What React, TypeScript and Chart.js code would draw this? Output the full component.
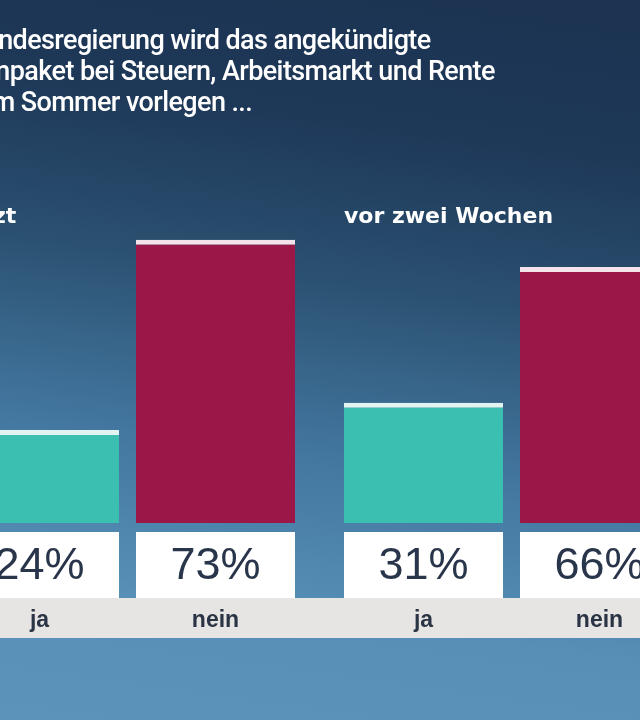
import { useEffect, useRef } from "react";
import { Chart, registerables } from "chart.js";

Chart.register(...registerables);

const titleLines = [
  "Die Bundesregierung wird das angekündigte",
  "Reformpaket bei Steuern, Arbeitsmarkt und Rente",
  "bis zum Sommer vorlegen ...",
];
const groups = ["jetzt", "vor zwei Wochen"];
const answers = ["ja", "nein"];
const jaValues = [24, 31];
const neinValues = [73, 66];
const barColors = ["#3bbfb0", "#9a1747"];
const capColors = ["#e2f4f1", "#f4e3ea"];

const OFFSET = 80; // canvas starts left of the visible page (cropped graphic)

export default function App() {
  const ref = useRef<HTMLCanvasElement>(null);

  useEffect(() => {
    const canvas = ref.current;
    if (!canvas) return;

    const overlay = {
      id: "overlay",
      afterDatasetsDraw(chart: any) {
        const ctx = chart.ctx as CanvasRenderingContext2D;
        const base = chart.scales.y.getPixelForValue(0);
        ctx.save();
        // grey answer band
        ctx.fillStyle = "#e6e5e4";
        ctx.fillRect(0, base + 75, chart.width, 40);
        chart.data.datasets.forEach((ds: any, di: number) => {
          const meta = chart.getDatasetMeta(di);
          meta.data.forEach((bar: any, i: number) => {
            const w = bar.width;
            const x0 = bar.x - w / 2;
            ctx.fillStyle = "#ffffff";
            ctx.fillRect(x0, base + 9, w, 66);
            ctx.fillStyle = "#28354a";
            ctx.font = "45px 'Liberation Sans', Arial, sans-serif";
            ctx.textAlign = "center";
            ctx.textBaseline = "alphabetic";
            ctx.fillText(ds.data[i] + "%", bar.x, base + 56);
            ctx.fillStyle = "#2b3444";
            ctx.font = "bold 23px 'Liberation Sans', Arial, sans-serif";
            ctx.fillText(ds.label, bar.x, base + 104);
          });
        });
        // group labels above each pair
        const first = chart.getDatasetMeta(0);
        ctx.fillStyle = "#ffffff";
        ctx.textAlign = "left";
        ctx.font = "bold 22px 'DejaVu Sans', sans-serif";
        first.data.forEach((bar: any, i: number) => {
          ctx.fillText(chart.data.labels[i], bar.x - bar.width / 2, 223);
        });
        // title
        ctx.font = "500 27px Roboto, sans-serif";
        (ctx as any).letterSpacing = "-0.6px";
        titleLines.forEach((line, i) => {
          ctx.fillText(line, OFFSET - 76, 49 + i * 31);
        });
        ctx.restore();
      },
    };

    const chart = new Chart(canvas, {
      type: "bar",
      data: {
        labels: groups,
        datasets: [
          {
            label: answers[0],
            data: jaValues,
            backgroundColor: barColors[0],
            borderColor: capColors[0],
            borderWidth: { top: 5, left: 0, right: 0, bottom: 0 },
            borderSkipped: false,
          },
          {
            label: answers[1],
            data: neinValues,
            backgroundColor: barColors[1],
            borderColor: capColors[1],
            borderWidth: { top: 5, left: 0, right: 0, bottom: 0 },
            borderSkipped: false,
          },
        ],
      },
      options: {
        responsive: false,
        animation: false,
        devicePixelRatio: 1,
        layout: { padding: { left: 15.5, right: 16.5, top: 135, bottom: 197 } },
        categoryPercentage: 0.9167,
        barPercentage: 0.9034,
        plugins: {
          legend: { display: false },
          title: { display: false },
          tooltip: { enabled: false },
        },
        scales: {
          x: { display: false },
          y: { display: false, min: 0, max: 100 },
        },
      } as any,
      plugins: [overlay],
    });
    return () => chart.destroy();
  }, []);

  return (
    <div
      style={{
        position: "fixed",
        left: 0,
        top: 0,
        width: 640,
        height: 720,
        overflow: "hidden",
        background:
          "linear-gradient(188deg, #1c3351 0%, #1e3858 20%, #2b5171 40%, #4377a0 62%, #5690b6 82%, #5b94ba 100%)",
      }}
    >
      <canvas
        ref={ref}
        width={800}
        height={720}
        style={{ position: "absolute", left: -OFFSET, top: 0, width: 800, height: 720 }}
      />
    </div>
  );
}
